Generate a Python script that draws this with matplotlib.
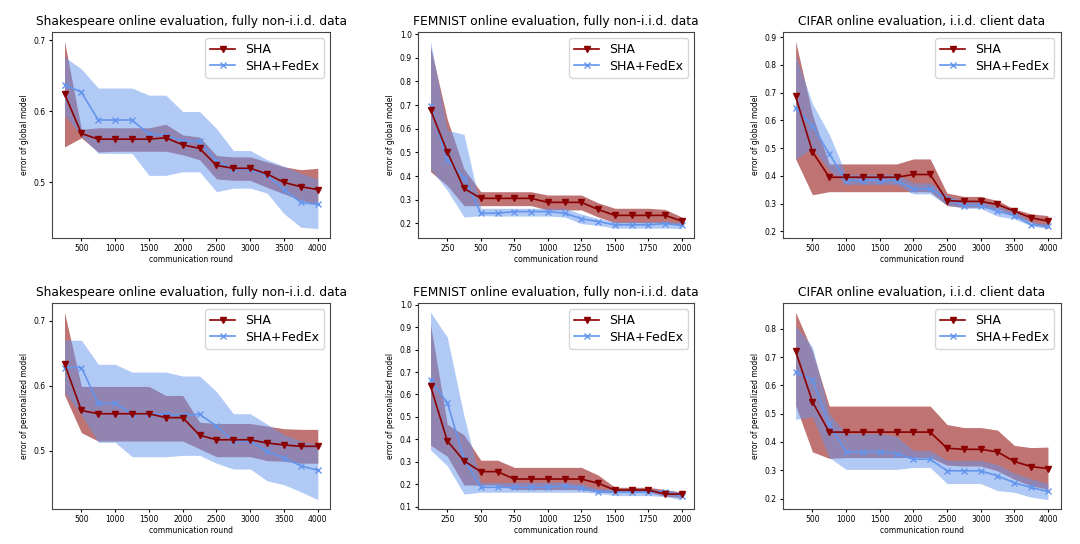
import matplotlib
matplotlib.use('Agg')
import matplotlib.pyplot as plt
from matplotlib.ticker import MultipleLocator

# communication rounds
rounds_long = [250, 500, 750, 1000, 1250, 1500, 1750, 2000,
               2250, 2500, 2750, 3000, 3250, 3500, 3750, 4000]
rounds_short = [125, 250, 375, 500, 625, 750, 875, 1000,
                1125, 1250, 1375, 1500, 1625, 1750, 1875, 2000]

titles = ['Shakespeare online evaluation, fully non-i.i.d. data',
          'FEMNIST online evaluation, fully non-i.i.d. data',
          'CIFAR online evaluation, i.i.d. client data']
ylabels = ['error of global model', 'error of personalized model']

# Shakespeare, global model
shk_g_sha = [0.625, 0.569, 0.561, 0.561, 0.561, 0.561, 0.563, 0.553,
             0.548, 0.524, 0.520, 0.520, 0.512, 0.500, 0.494, 0.490]
shk_g_sha_hi = [0.699, 0.575, 0.577, 0.577, 0.577, 0.577, 0.582, 0.567,
                0.564, 0.538, 0.536, 0.536, 0.529, 0.522, 0.518, 0.520]
shk_g_sha_lo = [0.550, 0.563, 0.543, 0.544, 0.544, 0.544, 0.544, 0.539,
                0.532, 0.505, 0.503, 0.503, 0.493, 0.484, 0.475, 0.469]
shk_g_fed = [0.638, 0.627, 0.588, 0.588, 0.588, 0.568, 0.567, 0.558,
             0.558, 0.530, 0.519, 0.519, 0.510, 0.490, 0.472, 0.469]
shk_g_fed_hi = [0.677, 0.660, 0.633, 0.633, 0.633, 0.623, 0.623, 0.600,
                0.600, 0.576, 0.545, 0.545, 0.532, 0.523, 0.513, 0.505]
shk_g_fed_lo = [0.595, 0.565, 0.541, 0.541, 0.541, 0.510, 0.510, 0.515,
                0.515, 0.487, 0.492, 0.492, 0.485, 0.456, 0.437, 0.435]

# FEMNIST, global model
fem_g_sha = [0.680, 0.502, 0.348, 0.306, 0.306, 0.306, 0.306, 0.289,
             0.289, 0.289, 0.259, 0.234, 0.234, 0.234, 0.234, 0.210]
fem_g_sha_hi = [0.946, 0.640, 0.430, 0.334, 0.334, 0.334, 0.334, 0.320,
                0.320, 0.320, 0.287, 0.264, 0.264, 0.264, 0.259, 0.227]
fem_g_sha_lo = [0.419, 0.360, 0.275, 0.275, 0.275, 0.275, 0.275, 0.257,
                0.257, 0.257, 0.227, 0.203, 0.203, 0.203, 0.203, 0.189]
fem_g_fed = [0.697, 0.468, 0.394, 0.243, 0.243, 0.250, 0.250, 0.250,
             0.243, 0.220, 0.208, 0.194, 0.194, 0.194, 0.199, 0.192]
fem_g_fed_hi = [0.970, 0.594, 0.576, 0.264, 0.264, 0.264, 0.264, 0.264,
                0.264, 0.240, 0.220, 0.208, 0.208, 0.208, 0.208, 0.203]
fem_g_fed_lo = [0.430, 0.340, 0.227, 0.233, 0.231, 0.231, 0.231, 0.231,
                0.227, 0.199, 0.192, 0.180, 0.180, 0.180, 0.180, 0.178]

# CIFAR, global model
cif_g_sha = [0.686, 0.487, 0.395, 0.395, 0.395, 0.395, 0.395, 0.405,
             0.405, 0.311, 0.308, 0.308, 0.297, 0.273, 0.249, 0.237]
cif_g_sha_hi = [0.885, 0.620, 0.443, 0.443, 0.443, 0.443, 0.443, 0.461,
                0.461, 0.338, 0.326, 0.326, 0.311, 0.281, 0.263, 0.257]
cif_g_sha_lo = [0.461, 0.332, 0.343, 0.343, 0.343, 0.343, 0.343, 0.343,
                0.343, 0.293, 0.287, 0.287, 0.281, 0.257, 0.233, 0.210]
cif_g_fed = [0.643, 0.580, 0.479, 0.383, 0.383, 0.383, 0.383, 0.353,
             0.353, 0.317, 0.293, 0.293, 0.273, 0.257, 0.224, 0.218]
cif_g_fed_hi = [0.834, 0.660, 0.550, 0.405, 0.405, 0.405, 0.405, 0.375,
                0.375, 0.330, 0.310, 0.310, 0.290, 0.275, 0.235, 0.225]
cif_g_fed_lo = [0.460, 0.500, 0.420, 0.370, 0.370, 0.370, 0.370, 0.335,
                0.335, 0.295, 0.283, 0.283, 0.255, 0.245, 0.220, 0.210]

# Shakespeare, personalized model
shk_p_sha = [0.634, 0.562, 0.557, 0.557, 0.557, 0.557, 0.551, 0.551,
             0.524, 0.517, 0.517, 0.517, 0.512, 0.509, 0.507, 0.507]
shk_p_sha_hi = [0.713, 0.599, 0.599, 0.599, 0.599, 0.599, 0.585, 0.585,
                0.544, 0.542, 0.542, 0.542, 0.538, 0.534, 0.533, 0.533]
shk_p_sha_lo = [0.586, 0.528, 0.515, 0.515, 0.515, 0.515, 0.515, 0.515,
                0.503, 0.491, 0.491, 0.491, 0.485, 0.484, 0.481, 0.481]
shk_p_fed = [0.628, 0.628, 0.573, 0.573, 0.557, 0.557, 0.556, 0.555,
             0.556, 0.538, 0.515, 0.515, 0.499, 0.489, 0.477, 0.470]
shk_p_fed_hi = [0.670, 0.670, 0.633, 0.633, 0.621, 0.621, 0.621, 0.615,
                0.615, 0.591, 0.557, 0.557, 0.541, 0.525, 0.515, 0.510]
shk_p_fed_lo = [0.590, 0.555, 0.513, 0.513, 0.491, 0.491, 0.491, 0.493,
                0.493, 0.481, 0.472, 0.472, 0.454, 0.448, 0.437, 0.425]

# FEMNIST, personalized model
fem_p_sha = [0.638, 0.393, 0.304, 0.256, 0.256, 0.223, 0.223, 0.223,
             0.223, 0.223, 0.204, 0.174, 0.174, 0.174, 0.156, 0.156]
fem_p_sha_hi = [0.912, 0.467, 0.420, 0.307, 0.307, 0.275, 0.275, 0.275,
                0.275, 0.275, 0.241, 0.186, 0.186, 0.186, 0.176, 0.164]
fem_p_sha_lo = [0.374, 0.324, 0.196, 0.196, 0.196, 0.176, 0.176, 0.176,
                0.176, 0.176, 0.164, 0.164, 0.164, 0.164, 0.146, 0.141]
fem_p_fed = [0.664, 0.564, 0.312, 0.186, 0.186, 0.186, 0.186, 0.186,
             0.193, 0.181, 0.167, 0.164, 0.164, 0.164, 0.167, 0.146]
fem_p_fed_hi = [0.967, 0.856, 0.504, 0.208, 0.208, 0.208, 0.208, 0.208,
                0.208, 0.201, 0.179, 0.179, 0.179, 0.179, 0.175, 0.164]
fem_p_fed_lo = [0.353, 0.282, 0.156, 0.164, 0.164, 0.164, 0.164, 0.164,
                0.164, 0.164, 0.160, 0.149, 0.149, 0.149, 0.145, 0.131]

# CIFAR, personalized model
cif_p_sha = [0.721, 0.542, 0.435, 0.435, 0.435, 0.435, 0.435, 0.435,
             0.435, 0.378, 0.374, 0.374, 0.365, 0.331, 0.313, 0.306]
cif_p_sha_hi = [0.859, 0.720, 0.527, 0.527, 0.527, 0.527, 0.527, 0.527,
                0.527, 0.462, 0.451, 0.451, 0.442, 0.388, 0.380, 0.382]
cif_p_sha_lo = [0.529, 0.365, 0.342, 0.345, 0.345, 0.345, 0.345, 0.345,
                0.345, 0.318, 0.315, 0.315, 0.298, 0.268, 0.245, 0.233]
cif_p_fed = [0.647, 0.619, 0.462, 0.365, 0.365, 0.365, 0.359, 0.339,
             0.339, 0.298, 0.298, 0.298, 0.280, 0.256, 0.239, 0.225]
cif_p_fed_hi = [0.812, 0.736, 0.500, 0.430, 0.430, 0.430, 0.420, 0.370,
                0.370, 0.335, 0.335, 0.335, 0.320, 0.290, 0.270, 0.253]
cif_p_fed_lo = [0.480, 0.490, 0.345, 0.303, 0.303, 0.303, 0.303, 0.310,
                0.310, 0.253, 0.253, 0.253, 0.228, 0.222, 0.205, 0.196]

panels = [
    [(rounds_long, shk_g_sha, shk_g_sha_lo, shk_g_sha_hi, shk_g_fed, shk_g_fed_lo, shk_g_fed_hi),
     (rounds_short, fem_g_sha, fem_g_sha_lo, fem_g_sha_hi, fem_g_fed, fem_g_fed_lo, fem_g_fed_hi),
     (rounds_long, cif_g_sha, cif_g_sha_lo, cif_g_sha_hi, cif_g_fed, cif_g_fed_lo, cif_g_fed_hi)],
    [(rounds_long, shk_p_sha, shk_p_sha_lo, shk_p_sha_hi, shk_p_fed, shk_p_fed_lo, shk_p_fed_hi),
     (rounds_short, fem_p_sha, fem_p_sha_lo, fem_p_sha_hi, fem_p_fed, fem_p_fed_lo, fem_p_fed_hi),
     (rounds_long, cif_p_sha, cif_p_sha_lo, cif_p_sha_hi, cif_p_fed, cif_p_fed_lo, cif_p_fed_hi)],
]

fig = plt.figure(figsize=(10.8, 5.44), dpi=100)

lefts = [0.048, 0.387, 0.725]
widths = [0.258, 0.256, 0.257]
bottoms = [0.5625, 0.0643]
height = 0.379

for r in range(2):
    for c in range(3):
        x, sha, sha_lo, sha_hi, fed, fed_lo, fed_hi = panels[r][c]
        ax = fig.add_axes([lefts[c], bottoms[r], widths[c], height])
        ax.fill_between(x, sha_lo, sha_hi, color='darkred', alpha=0.55, lw=0, zorder=1)
        ax.fill_between(x, fed_lo, fed_hi, color='cornflowerblue', alpha=0.5, lw=0, zorder=1)
        ax.plot(x, sha, color='darkred', marker='v', ms=3.8, lw=1.2, label='SHA', zorder=3)
        ax.plot(x, fed, color='cornflowerblue', marker='x', ms=3.8, lw=1.2,
                label='SHA+FedEx', zorder=2)
        ax.yaxis.set_major_locator(MultipleLocator(0.1))
        ax.set_title(titles[c], fontsize=8.8, pad=5)
        ax.set_xlabel('communication round', fontsize=5.5, labelpad=1)
        ax.set_ylabel(ylabels[r], fontsize=5.5, labelpad=3)
        ax.tick_params(labelsize=5.5, length=2.5, pad=2)
        for s in ax.spines.values():
            s.set_linewidth(0.8)
            s.set_color('#444444')
        ax.legend(loc='upper right', fontsize=9, handlelength=2, borderpad=0.4,
                  labelspacing=0.3, fancybox=True)

fig.savefig('out.png', dpi=100)
